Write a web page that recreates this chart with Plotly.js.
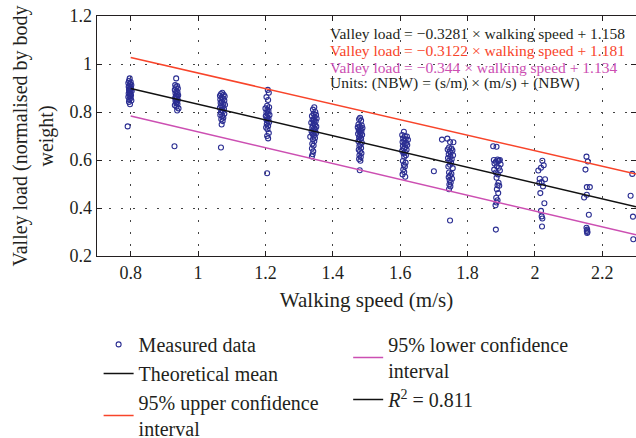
<!DOCTYPE html>
<html>
<head>
<meta charset="utf-8">
<script src="https://cdn.plot.ly/plotly-3.0.1.min.js"></script>
<style>html,body{margin:0;padding:0;background:#fff;}#chart{width:636px;height:438px;}</style>
</head>
<body>
<div id="chart"></div>
<script>
// Measured data (walking speed in m/s, valley load in NBW)
const measuredSpeed = [
  0.797,0.795,0.800,0.793,0.798,0.802,0.796,0.794,0.799,0.801,0.797,0.795,0.800,0.803,0.796,0.798,0.794,0.799,0.801,0.797,0.793,0.800,0.796,0.802,0.795,0.798,0.791,
  0.935,0.932,0.938,0.934,0.940,0.931,0.936,0.939,0.933,0.937,0.941,0.934,0.938,0.932,0.936,0.940,0.933,0.937,0.935,0.939,0.931,0.936,0.942,0.938,0.930,
  1.072,1.068,1.076,1.065,1.079,1.070,1.074,1.066,1.078,1.071,1.067,1.075,1.080,1.069,1.073,1.065,1.077,1.070,1.074,1.068,1.078,1.066,1.072,1.075,1.069,1.073,1.070,1.068,
  1.207,1.210,1.203,1.208,1.205,1.211,1.200,1.206,1.209,1.203,1.207,1.212,1.201,1.205,1.209,1.203,1.207,1.211,1.204,1.208,1.202,1.206,1.210,1.205,1.208,1.205,
  1.345,1.341,1.348,1.343,1.350,1.338,1.346,1.352,1.340,1.344,1.349,1.336,1.343,1.347,1.341,1.351,1.339,1.345,1.348,1.342,1.337,1.346,1.350,1.340,1.344,1.333,1.347,1.341,1.345,1.339,1.343,1.338,1.342,1.340,1.338,
  1.481,1.478,1.484,1.476,1.486,1.480,1.474,1.488,1.482,1.477,1.485,1.479,1.483,1.475,1.487,1.481,1.478,1.484,1.480,1.476,1.486,1.482,1.479,1.484,1.477,1.481,1.485,1.479,1.483,1.478,1.482,1.480,
  1.611,1.606,1.614,1.620,1.609,1.616,1.623,1.612,1.607,1.618,1.613,1.621,1.608,1.615,1.611,1.619,1.606,1.614,1.610,1.617,1.612,1.608,1.616,1.611,1.614,1.609,1.612,1.607,1.615,
  1.700,1.724,1.740,1.748,1.758,1.745,1.752,1.741,1.755,1.747,1.750,1.744,1.757,1.749,1.742,1.753,1.746,1.751,1.748,1.743,1.756,1.745,1.752,1.748,1.744,1.754,1.747,1.750,1.746,1.749,1.745,1.748,
  1.876,1.886,1.878,1.889,1.893,1.896,1.891,1.884,1.880,1.898,1.887,1.893,1.879,1.896,1.884,1.890,1.886,1.892,1.889,1.894,1.887,1.891,1.885,1.889,1.886,1.883,1.884,
  2.022,2.026,2.018,2.010,2.014,2.030,2.020,2.013,2.024,2.016,2.028,2.018,2.020,2.022,2.021,
  2.153,2.157,2.150,2.154,2.163,2.146,2.154,2.160,2.153,2.155,2.154,2.156,2.155,
  2.289,2.284,2.291,2.292
];
const measuredLoad = [
  0.940,0.930,0.925,0.921,0.917,0.912,0.908,0.905,0.902,0.898,0.895,0.893,0.890,0.887,0.884,0.880,0.877,0.874,0.870,0.866,0.862,0.858,0.852,0.848,0.842,0.832,0.740,
  0.940,0.912,0.908,0.903,0.898,0.892,0.887,0.882,0.878,0.874,0.870,0.866,0.862,0.858,0.854,0.850,0.846,0.842,0.838,0.833,0.828,0.822,0.815,0.806,0.657,
  0.880,0.875,0.872,0.868,0.865,0.860,0.856,0.852,0.848,0.843,0.838,0.834,0.830,0.826,0.822,0.817,0.812,0.808,0.803,0.798,0.793,0.788,0.783,0.776,0.770,0.762,0.748,0.652,
  0.892,0.880,0.862,0.850,0.826,0.820,0.815,0.810,0.804,0.798,0.793,0.788,0.783,0.778,0.773,0.768,0.763,0.757,0.750,0.742,0.735,0.728,0.712,0.700,0.690,0.545,
  0.820,0.810,0.800,0.793,0.788,0.783,0.778,0.773,0.768,0.764,0.760,0.755,0.751,0.747,0.743,0.739,0.735,0.731,0.727,0.723,0.719,0.715,0.711,0.707,0.702,0.697,0.692,0.686,0.678,0.668,0.660,0.648,0.636,0.624,0.615,
  0.776,0.770,0.764,0.748,0.744,0.740,0.736,0.733,0.729,0.725,0.721,0.717,0.713,0.709,0.705,0.700,0.695,0.690,0.684,0.678,0.672,0.665,0.658,0.650,0.643,0.636,0.628,0.620,0.612,0.604,0.597,0.557,
  0.718,0.704,0.700,0.698,0.690,0.686,0.684,0.680,0.675,0.671,0.666,0.662,0.658,0.653,0.648,0.643,0.638,0.633,0.627,0.620,0.614,0.596,0.589,0.580,0.573,0.560,0.550,0.540,0.530,
  0.553,0.685,0.689,0.675,0.674,0.652,0.648,0.644,0.640,0.636,0.630,0.624,0.620,0.614,0.608,0.603,0.598,0.590,0.580,0.573,0.566,0.548,0.542,0.535,0.528,0.522,0.515,0.506,0.498,0.490,0.478,0.348,
  0.657,0.655,0.600,0.602,0.598,0.600,0.595,0.593,0.585,0.582,0.574,0.568,0.560,0.556,0.548,0.540,0.526,0.505,0.495,0.493,0.478,0.462,0.443,0.432,0.423,0.411,0.310,
  0.597,0.578,0.568,0.556,0.522,0.520,0.508,0.504,0.490,0.462,0.420,0.388,0.365,0.356,0.323,
  0.614,0.594,0.560,0.487,0.487,0.444,0.455,0.372,0.318,0.310,0.304,0.300,0.296,
  0.542,0.451,0.364,0.270
];
// Fitted lines (endpoints)
const lineSpeed = [0.8, 2.3];
const meanLoad = [0.898, 0.405];
const upperLoad = [1.027, 0.542];
const lowerLoad = [0.783, 0.288];

const equations = [
  'Valley load = −0.3281 × walking speed + 1.158',
  'Valley load = −0.3122 × walking speed + 1.181',
  'Valley load = −0.344 × walking speed + 1.134',
  'Units: (NBW) = (s/m) × (m/s) + (NBW)'
];
const equationColors = ['#231f20', '#f8442a', '#cc4fb2', '#231f20'];
const xTicks = [0.8, 1, 1.2, 1.4, 1.6, 1.8, 2, 2.2];
const xTickText = ['0.8', '1', '1.2', '1.4', '1.6', '1.8', '2', '2.2'];
const yTicks = [0.2, 0.4, 0.6, 0.8, 1, 1.2];
const yTickText = ['0.2', '0.4', '0.6', '0.8', '1', '1.2'];

const FONT = 'Liberation Serif';
const TXT = '#231f20';

const traces = [
  {x: measuredSpeed, y: measuredLoad, type: 'scatter', mode: 'markers', name: 'Measured data',
   marker: {symbol: 'circle-open', size: 5, color: '#2b2e92', line: {width: 1.1, color: '#2b2e92'}}, legend: 'legend'},
  {x: lineSpeed, y: meanLoad, type: 'scatter', mode: 'lines', name: 'Theoretical mean',
   line: {color: '#111111', width: 1.5}, legend: 'legend'},
  {x: lineSpeed, y: upperLoad, type: 'scatter', mode: 'lines', name: '95% upper confidence<br>interval',
   line: {color: '#f8442a', width: 1.5}, legend: 'legend'},
  {x: lineSpeed, y: lowerLoad, type: 'scatter', mode: 'lines', name: '95% lower confidence<br>interval',
   line: {color: '#cc4fb2', width: 1.5}, legend: 'legend2'},
  {x: [null], y: [null], type: 'scatter', mode: 'lines', name: '<i>R</i><sup>2</sup> = 0.811',
   line: {color: '#111111', width: 1.5}, legend: 'legend2'}
];

const annotations = equations.map((t, i) => ({
  text: t, xref: 'paper', yref: 'paper', x: 0.4286, y: [0.929, 0.858, 0.7875, 0.721][i],
  xanchor: 'left', yanchor: 'middle', showarrow: false,
  font: {family: FONT, size: 15.5, color: equationColors[i]}
}));

const axisCommon = {
  showline: true, linecolor: '#231f20', linewidth: 1.3, mirror: 'ticks',
  ticks: 'inside', ticklen: 5, tickcolor: '#231f20', tickwidth: 1,
  showgrid: true, gridcolor: '#444', gridwidth: 1, griddash: '1.5px,10.5px',
  zeroline: false, automargin: false, tickfont: {family: FONT, size: 18, color: TXT}
};

const legendCommon = {
  xanchor: 'left', yanchor: 'top', orientation: 'v',
  font: {family: FONT, size: 20, color: TXT}, bgcolor: 'rgba(0,0,0,0)', borderwidth: 0, tracegroupgap: 0
};

const layout = {
  width: 636, height: 438,
  margin: {l: 97, r: 0, t: 16, b: 182, autoexpand: false},
  font: {family: FONT, color: TXT},
  paper_bgcolor: '#fff', plot_bgcolor: '#fff',
  showlegend: true,
  xaxis: Object.assign({}, axisCommon, {
    range: [0.7, 2.3], tickvals: xTicks, ticktext: xTickText,
    title: {text: 'Walking speed (m/s)', font: {family: FONT, size: 21, color: TXT}, standoff: 10}
  }),
  yaxis: Object.assign({}, axisCommon, {
    range: [0.2, 1.2], tickvals: yTicks, ticktext: yTickText,
    title: {text: 'Valley load (normalised by body<br>weight)', font: {family: FONT, size: 20, color: TXT}, standoff: 10}
  }),
  legend: Object.assign({}, legendCommon, {x: 0.003, y: -0.287}),
  legend2: Object.assign({}, legendCommon, {x: 0.466, y: -0.287}),
  annotations: annotations
};

Plotly.newPlot('chart', traces, layout, {displayModeBar: false, staticPlot: true});
</script>
</body>
</html>
